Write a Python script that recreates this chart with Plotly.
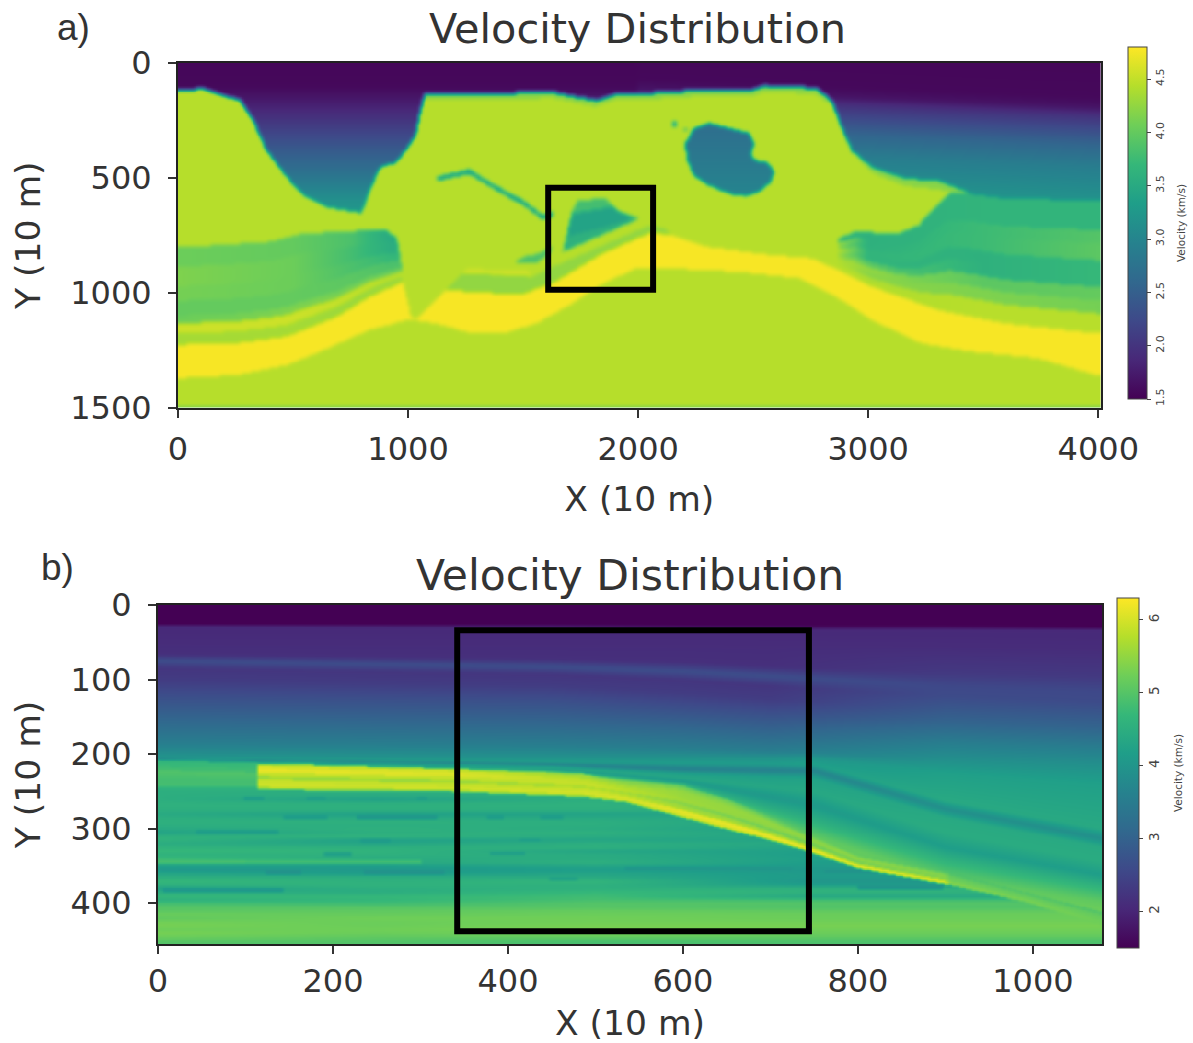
import numpy as np
import plotly.graph_objects as go

W, H = 1193, 1043
FONT = "DejaVu Sans"
INK = "#333333"

# ---------------- Panel a: interfaces (X, Y in 10 m) ----------------
floor_x = [0,110,268,326,384,471,543,644,796,832,875,948,1027,1049,1070,1410,1627,1815,1901,2003,2292,2494,2552,2769,2841,2884,2928,3015,3159,3304,3448,3593,3990,4010]
floor_y = [117,110,161,248,378,494,574,625,651,552,451,429,320,219,132,129,125,161,132,132,114,114,96,106,161,277,378,451,501,509,567,588,596,597]
rim_x = [1060,1070,2800,2850,2920,3050,3300,3450,3460]
rim_t = [0,26,26,18,12,26,40,15,0]
water_left_y = [0,100,160,230,306,380,450,520,595,650]
water_left_v = [1.55,1.57,1.73,1.95,2.2,2.45,2.65,2.9,3.15,3.25]
water_right_y = [0,150,190,233,349,451,581,620]
water_right_v = [1.55,1.57,1.67,2.0,2.55,2.9,3.15,3.2]
yellow_top_x = [0,254,470,690,830,962,1165,1482,1627,1844,2046,2147,2292,2581,2754,2899,3014,3303,3593,3990]
yellow_top_y = [1225,1218,1190,1103,1016,958,987,1008,958,827,740,748,798,835,849,914,972,1074,1132,1175]
yellow_bot_x = [0,254,470,615,830,1005,1120,1265,1410,1555,1700,1844,1988,2147,2437,2697,2870,3014,3231,3448,3737,3990]
yellow_bot_y = [1370,1356,1313,1255,1160,1114,1132,1172,1175,1132,1052,958,893,893,907,936,1023,1117,1219,1255,1284,1356]
sed_left_x = [0,180,400,540,690,900,970]
sed_left_y = [800,790,775,740,733,720,735]
sed_left_edges = [0,.2,.4,.55,.7,.78,.88,1.0001]
sed_left_cols = [0,500,750,920]
sed_left_v = [[4.05,4.15,4.1,4.0,4.05,4.55,4.35],
              [4.0,4.05,4.05,4.0,4.15,4.55,4.35],
              [3.85,3.8,3.85,3.95,4.1,4.5,4.3],
              [3.5,3.55,3.7,3.85,4.05,4.45,4.3]]
sed_right_x = [2870,2942,3130,3217,3275,3347,3448,3593,3990,4010]
sed_right_y = [762,733,740,704,640,567,567,588,596,597]
sed_right_edges = [0,.12,.22,.32,.45,.55,.65,.75,.85,1.0001]
sed_right_cols = [2880,3000,3500,3990]
sed_right_v = [[3.6,4.3,4.1,4.35,4.2,4.3,4.4,4.4,4.45],
               [3.6,3.6,3.6,3.65,3.65,3.95,4.25,4.2,4.4],
               [3.65,3.65,3.75,3.75,3.6,3.6,3.95,4.15,4.45],
               [3.65,3.65,3.9,3.95,3.7,3.7,4.0,4.1,4.45]]
salt_v = 4.44
yellow_v = 4.77
finger_x = [890,948,965,977,1013,1042,1164,1193,1265,1265]
finger_y = [711,762,842,958,1110,1110,980,943,871,668]
mid_x = [1164,1237,1540,1627,2046,2111,2147,2046,1844,1627,1482,1164]
mid_y = [980,914,929,885,704,719,740,740,827,958,1008,987]
mid_lime_x = [1251,1540,1520,1240]
mid_lime_y = [893,905,925,912]
box_x = [1670,1713,1735,1858,1916,2002]
box_y = [820,639,596,588,646,675]
box_top_x = [1713,1735,1858,1887]
box_top_y = [654,596,588,625]
box_mid_x = [1685,1713,1887,1916,1959,1959]
box_mid_y = [755,654,625,646,665,683]
sliver_x = [1323,1468,1497,1555,1627,1620,1555]
sliver_y = [871,864,842,830,798,820,871]
thread_x = [1128,1193,1265,1352,1439,1497,1583,1627]
thread_y = [494,477,462,516,566,596,661,646]
blob_x = [2205,2241,2306,2393,2480,2502,2487,2502,2559,2588,2574,2523,2465,2393,2306,2241,2213]
blob_y = [349,284,262,284,306,349,393,422,433,472,516,559,577,567,530,487,422]
blob_depth = [262,577]
blob_v = [2.68,3.0]
speck1_x = [2145,2165,2165,2145]
speck1_y = [255,255,275,275]
speck2_x = [2199,2211,2211,2199]
speck2_y = [281,281,293,293]
xticks_a = [0,1000,2000,3000,4000]
yticks_a = [0,500,1000,1500]
box_a = [1609,2065,543,987]

# ---------------- Panel b: horizons ----------------
hor_x = [0,450,600,750,900,1080]
hor_v = [1.5,1.5,2.05,2.1,2.15,2.65,2.25,2.35,2.7,3.1,3.55,3.95,4.15,3.55,4.2,4.35,4.05,4.5,5.1,5.35,5.25,5.0]
hor_v_far = [1.5,1.5,2.05,2.1,2.3,2.55,2.6,2.8,3.05,3.55,3.9,4.2,4.4,3.85,4.4,4.45,4.15,4.65,5.1,5.35,5.25,5.0]
hor_depth = [
    [0,0,0,0,0,0],
    [26,27,28,29,29,30],
    [28,29,30,31,31,32],
    [50,50,50,52,55,58],
    [66,72,76,84,90,95],
    [74,82,88,98,108,115],
    [84,92,100,112,122,130],
    [100,108,118,130,138,145],
    [125,130,140,150,158,165],
    [155,160,165,175,185,192],
    [185,188,192,198,208,215],
    [203,205,205,205,225,240],
    [205,210,212,214,262,300],
    [206,214,220,222,273,313],
    [207,216,226,232,285,325],
    [208,218,232,250,305,344],
    [209,220,236,268,325,362],
    [210,222,240,290,345,380],
    [211,224,242,310,365,398],
    [212,226,244,330,400,425],
    [213,228,246,340,440,445],
    [460,460,460,460,460,460],
]
refl_top_x = [0,113,334,486,534,591,648,686,739,800,903,991,1080]
refl_top_y = [208,212,219,226,237,241,259,277,304,335,358,385,412]
refl_bot_x = [0,334,486,534,591,648,686,739,800,903,991,1080]
refl_bot_y = [246,250,257,264,282,300,311,329,353,375,398,430]
refl_edges = [0,.1,.2,.35,.5,.6,.75,.9,1.0001]
refl_x = [0,112,114,340,500,600,750,900,904,1080]
refl_v = [
    [4.7,4.7,5.75,5.8,5.5,5.3,5.1,5.0,4.9,4.9],
    [4.7,4.75,6.0,6.0,5.6,5.5,5.3,5.2,5.0,5.0],
    [4.8,4.8,6.15,6.05,5.8,5.55,5.5,5.4,5.1,5.1],
    [4.95,4.95,5.85,5.85,5.9,5.6,5.4,5.4,5.2,5.15],
    [4.9,4.9,5.5,5.5,5.7,5.4,5.1,5.3,5.2,5.2],
    [4.85,4.85,5.9,5.85,5.9,5.6,5.6,5.6,5.3,5.2],
    [4.85,4.85,5.95,5.95,6.0,6.1,6.2,6.1,5.4,5.25],
    [4.6,4.6,5.5,5.6,5.7,5.9,5.95,5.95,5.3,5.2],
]
deep_y = list(range(250,460,5))
deep_x = [0,250,500,750]
deep_v0 = [4.5,4.5,4.5,4.55,4.55,4.5,4.4,4.5,4.55,4.5,4.4,4.25,4.55,4.6,4.45,4.6,4.7,4.55,4.75,4.5,4.2,4.15,4.3,4.5,4.7,4.55,4.25,4.45,4.7,4.5,4.85,5.0,5.05,5.2,5.1,5.25,5.3,5.2,5.3,5.2,5.05,4.95]
deep_v1 = [4.5,4.45,4.2,4.5,4.55,4.5,4.2,4.4,4.55,4.5,4.55,4.5,4.6,4.2,4.3,4.55,4.6,4.55,4.45,4.4,4.15,4.05,4.15,4.5,4.55,4.6,4.5,4.45,4.7,4.65,4.8,5.0,5.1,5.15,5.25,5.2,5.2,5.25,5.2,5.1,5.0,4.95]
deep_v2 = [4.5,4.5,4.5,4.55,4.55,4.5,4.25,4.4,4.5,4.5,4.45,4.55,4.45,4.3,4.5,4.55,4.3,4.45,4.45,4.55,4.3,4.15,4.3,4.4,4.65,4.55,4.55,4.7,4.8,4.85,5.0,5.0,5.15,5.2,5.25,5.25,5.3,5.3,5.25,5.15,4.9,4.85]
deep_v3 = [4.4,4.4,4.4,4.4,4.4,4.35,4.3,4.3,4.3,4.25,4.2,4.25,4.3,4.3,4.35,4.25,4.2,4.15,4.2,4.15,4.1,4.05,4.1,4.1,4.0,4.15,4.55,4.6,4.35,4.8,5.0,4.95,5.1,5.2,5.2,5.25,5.3,5.25,5.2,5.1,4.95,4.9]
lens_x0 = [98,170,296,143,227,376,437,44,231,414,189,380,2,124,235,6,448,0,100,747,762,534,800]
lens_x1 = [120,190,307,193,319,395,463,136,265,437,220,418,163,163,326,143,479,105,300,800,831,724,896]
lens_y = [259,259,259,284,284,284,284,304,316,315,334,333,355,358,358,382,367,344,344,295,357,353,378]
lens_v = [4.1,4.15,4.15,4.15,4.05,4.15,4.15,4.15,4.1,4.15,4.2,4.15,4.05,3.95,3.95,4.05,4.2,4.85,4.8,4.0,3.95,4.0,4.0]
xticks_b = [0,200,400,600,800,1000]
yticks_b = [0,100,200,300,400]
box_b = [342,744,34,438]


# ---------------- rasterising helpers ----------------
def in_poly(X, Y, px, py):
    inside = np.zeros(X.shape, bool)
    n = len(px)
    for i in range(n):
        x0, y0, x1, y1 = px[i], py[i], px[(i + 1) % n], py[(i + 1) % n]
        if y0 == y1:
            continue
        cross = ((y0 <= Y) != (y1 <= Y)) & (X < x0 + (Y - y0) * (x1 - x0) / (y1 - y0))
        inside ^= cross
    return inside


def soften(z):
    out = z.copy()
    for axis in (0, 1):
        pad = np.pad(out, [(1, 1) if a == axis else (0, 0) for a in (0, 1)], mode="edge")
        a = np.take(pad, range(0, pad.shape[axis] - 2), axis=axis)
        b = np.take(pad, range(1, pad.shape[axis] - 1), axis=axis)
        c = np.take(pad, range(2, pad.shape[axis]), axis=axis)
        out = 0.25 * a + 0.5 * b + 0.25 * c
    return out


def stack(z, xa, ya, X, Y, top_x, top_y, edges, cols, vals, xmin, xmax):
    T = np.interp(xa, top_x, top_y)[None, :]
    B = np.interp(xa, yellow_top_x, yellow_top_y)[None, :]
    F = (Y - T) / np.maximum(B - T, 1)
    vals = np.array(vals)
    Vx = np.array([np.interp(xa, cols, vals[:, k]) for k in range(vals.shape[1])])
    idx = np.clip(np.digitize(F, edges) - 1, 0, vals.shape[1] - 1)
    xi = np.broadcast_to(np.arange(xa.size)[None, :], F.shape)
    mask = (F >= 0) & (F < 1) & (X >= xmin) & (X <= xmax)
    z[mask] = Vx[idx[mask], xi[mask]]


# ---------------- panel a field ----------------
xa = np.arange(0, 4012, 8.0)
ya = np.arange(0, 1502, 8.0)
Xa, Ya = np.meshgrid(xa, ya)
za = np.full(Xa.shape, salt_v)
fl = np.interp(xa, floor_x, floor_y)[None, :]
wl = np.interp(Ya, water_left_y, water_left_v)
wr = np.interp(Ya + (3990 - Xa) * 0.04, water_right_y, water_right_v)
water = Ya < fl
za[water] = np.where(Xa < 2000, wl, wr)[water]
rim = np.interp(xa, rim_x, rim_t)[None, :]
za[(Ya >= fl) & (Ya < fl + rim)] = 4.2
ytop = np.interp(xa, yellow_top_x, yellow_top_y)[None, :]
ybot = np.interp(xa, yellow_bot_x, yellow_bot_y)[None, :]
za[(Ya >= ytop) & (Ya < ybot)] = yellow_v
stack(za, xa, ya, Xa, Ya, sed_left_x, sed_left_y, sed_left_edges, sed_left_cols, sed_left_v, 0, 975)
stack(za, xa, ya, Xa, Ya, sed_right_x, sed_right_y, sed_right_edges, sed_right_cols, sed_right_v, 2870, 4012)
za[in_poly(Xa, Ya, mid_x, mid_y)] = 4.25
za[in_poly(Xa, Ya, mid_lime_x, mid_lime_y)] = 4.55
za[in_poly(Xa, Ya, finger_x, finger_y)] = salt_v
za[in_poly(Xa, Ya, box_x, box_y)] = 3.6
za[in_poly(Xa, Ya, box_top_x, box_top_y)] = 3.8
za[in_poly(Xa, Ya, box_mid_x, box_mid_y)] = 3.4
za[in_poly(Xa, Ya, sliver_x, sliver_y)] = 3.85
za[in_poly(Xa, Ya, thread_x + thread_x[::-1], thread_y + [v + 18 for v in thread_y[::-1]])] = 3.35
bl = in_poly(Xa, Ya, blob_x, blob_y)
za[bl] = np.interp(Ya, blob_depth, blob_v)[bl]
za[in_poly(Xa, Ya, speck1_x, speck1_y)] = 3.4
za[in_poly(Xa, Ya, speck2_x, speck2_y)] = 3.5
za[Ya >= 1492] = 4.05
za = soften(soften(za))

# ---------------- panel b field ----------------
xb = np.arange(0, 1081, 2.0)
yb = np.arange(0, 456, 2.0)
Xb, Yb = np.meshgrid(xb, yb)
hd = np.array(hor_depth, float)
zb = np.empty(Xb.shape)
for j, x in enumerate(xb):
    col = [np.interp(x, hor_x, hd[i]) for i in range(len(hor_v))]
    vals = [np.interp(x, [700, 900], [hor_v[i], hor_v_far[i]]) for i in range(len(hor_v))]
    zb[:, j] = np.interp(yb, col, vals)
deep_tbl = np.array([deep_v0, deep_v1, deep_v2, deep_v3])
deep_col = np.array([[np.interp(x, deep_x, deep_tbl[:, k]) for x in xb] for k in range(len(deep_y))])
deep = np.array([np.interp(yb, deep_y, deep_col[:, j]) for j in range(xb.size)]).T
for x0, x1, y, v in zip(lens_x0, lens_x1, lens_y, lens_v):
    deep[(Xb >= x0) & (Xb <= x1) & (np.abs(Yb - y) <= 2)] = v
rt = np.interp(xb, refl_top_x, refl_top_y)[None, :]
rb = np.interp(xb, refl_bot_x, refl_bot_y)[None, :]
zb = np.where(Yb >= rb, deep, zb)
F = (Yb - rt) / np.maximum(rb - rt, 1)
rv = np.array(refl_v)
Vr = np.array([np.interp(xb, refl_x, rv[k]) for k in range(rv.shape[0])])
idx = np.clip(np.digitize(F, refl_edges) - 1, 0, rv.shape[0] - 1)
xi = np.broadcast_to(np.arange(xb.size)[None, :], F.shape)
m = (F >= 0) & (F < 1)
zb[m] = Vr[idx[m], xi[m]]
zb = soften(zb)

# ---------------- figure ----------------
fig = go.Figure()
fig.add_trace(go.Heatmap(x=xa, y=ya, z=za, coloraxis="coloraxis", zsmooth="best", xaxis="x", yaxis="y"))
fig.add_trace(go.Heatmap(x=xb, y=yb, z=zb, coloraxis="coloraxis2", zsmooth="best", xaxis="x2", yaxis="y2"))


def axis(domain, rng, ticks, title, anchor, standoff, label_gap):
    return dict(domain=domain, range=rng, tickmode="array", tickvals=ticks, ticks="outside",
                ticklen=8, tickwidth=2, tickcolor=INK, showline=True, linewidth=2, linecolor="#222222",
                mirror=True, showgrid=False, zeroline=False, anchor=anchor, ticklabelstandoff=label_gap,
                tickfont=dict(family=FONT, size=32, color=INK),
                title=dict(text=title, standoff=standoff, font=dict(family=FONT, size=34.5, color=INK)))


def cbar(x, thick, ybar_top, ybar_len, tick0, dtick, fmt, tsize):
    return dict(x=x / W, xanchor="left", thickness=thick, thicknessmode="pixels",
                y=1 - ybar_top / H, yanchor="top", len=ybar_len / H, lenmode="fraction",
                xpad=0, ypad=0, outlinewidth=1, outlinecolor="#444444",
                ticks="outside", ticklen=4, tickcolor="#444444", tick0=tick0, dtick=dtick, tickformat=fmt,
                tickangle=-90, tickfont=dict(family=FONT, size=tsize, color="#444444"))


def note(text, x, y, size, family=FONT, angle=0, color=INK):
    return dict(text=text, x=x / W, y=1 - y / H, xref="paper", yref="paper", xanchor="center", yanchor="middle",
                showarrow=False, textangle=angle, font=dict(family=family, size=size, color=color))


def rect(b, xr, yr):
    return dict(type="rect", xref=xr, yref=yr, x0=b[0], x1=b[1], y0=b[2], y1=b[3],
                line=dict(color="black", width=6), layer="above")


fig.update_layout(
    width=W, height=H, margin=dict(l=0, r=0, t=0, b=0, autoexpand=False), paper_bgcolor="white", plot_bgcolor="white",
    showlegend=False,
    xaxis=axis([178 / W, 1100.6 / W], [0, 4010], xticks_a, "X (10 m)", "y", 20, 4),
    yaxis=axis([1 - 407.5 / H, 1 - 63 / H], [1500, 0], yticks_a, "Y (10 m)", "x", 19, 10),
    xaxis2=axis([158 / W, 1102 / W], [0, 1079], xticks_b, "X (10 m)", "y2", 11, 0),
    yaxis2=axis([1 - 944 / H, 1 - 605 / H], [455, 0], yticks_b, "Y (10 m)", "x2", 19, 10),
    coloraxis=dict(colorscale="Viridis", cmin=1.5, cmax=4.8,
                   colorbar=cbar(1128, 19, 47, 352, 1.5, 0.5, ".1f", 11)),
    coloraxis2=dict(colorscale="Viridis", cmin=1.5, cmax=6.3,
                    colorbar=cbar(1117, 22, 598, 350, 2, 1, "d", 13.5)),
    shapes=[rect(box_a, "x", "y"), rect(box_b, "x2", "y2")],
    annotations=[
        note("Velocity Distribution", 637, 29, 41.4),
        note("Velocity Distribution", 630, 575, 42.5),
        note("a)", 73, 28, 37, "Liberation Sans"),
        note("b)", 57, 567, 37, "Liberation Sans"),
        note("Velocity (km/s)", 1181, 223, 10.5, FONT, -90, "#444444"),
        note("Velocity (km/s)", 1178, 773, 10.5, FONT, -90, "#444444"),
    ],
)
fig.write_html("out.html", post_script="document.body.style.margin='0';", config={"displayModeBar": False})
